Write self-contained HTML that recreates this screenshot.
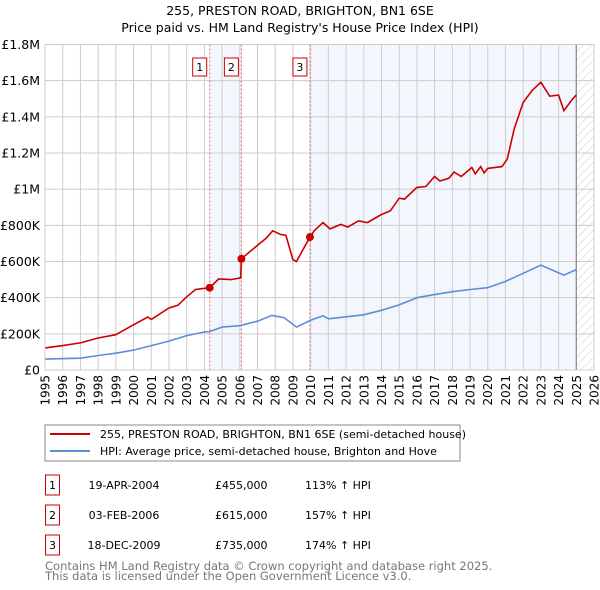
<!DOCTYPE html>
<html><head><meta charset="utf-8"><style>
body{margin:0;background:#fff;font-family:"DejaVu Sans","Liberation Sans",sans-serif;}
#wrap{position:relative;width:600px;height:590px;overflow:hidden}
</style></head><body>
<div id="wrap">
<svg id="chart" width="600" height="590" xmlns="http://www.w3.org/2000/svg" font-family="DejaVu Sans, Liberation Sans, sans-serif">
<defs><pattern id="hatch" width="6" height="6" patternUnits="userSpaceOnUse" patternTransform="rotate(45)"><line x1="0" y1="0" x2="0" y2="6" stroke="#ccc" stroke-width="1"/></pattern></defs>
<text x="300" y="15" text-anchor="middle" font-size="12.5">255, PRESTON ROAD, BRIGHTON, BN1 6SE</text>
<text x="300" y="32" text-anchor="middle" font-size="12.5">Price paid vs. HM Land Registry's House Price Index (HPI)</text>
<g id="plot"></g>
<rect x="45" y="425" width="415" height="36" fill="#fff" stroke="#888"/>
<line x1="50" y1="434" x2="90" y2="434" stroke="#cc0000" stroke-width="2"/>
<text x="100" y="438" font-size="11">255, PRESTON ROAD, BRIGHTON, BN1 6SE (semi-detached house)</text>
<line x1="50" y1="451" x2="90" y2="451" stroke="#5b8fd6" stroke-width="2"/>
<text x="100" y="455" font-size="11">HPI: Average price, semi-detached house, Brighton and Hove</text>
<g id="table" font-size="11"></g>
<text x="45" y="570" font-size="11.5" fill="#777">Contains HM Land Registry data © Crown copyright and database right 2025.</text>
<text x="45" y="580" font-size="11.5" fill="#777">This data is licensed under the Open Government Licence v3.0.</text>
</svg>
</div>
<script>
const redYears=[1995,1996,1997,1998,1999,2000,2000.8,2001,2002,2002.5,2003,2003.5,2004.3,2004.8,2005.5,2006.05,2006.09,2006.7,2007.5,2007.85,2008.3,2008.6,2009.0,2009.2,2009.96,2010.2,2010.7,2011.1,2011.7,2012.1,2012.7,2013.2,2014,2014.5,2015,2015.3,2016,2016.5,2017,2017.3,2017.8,2018.1,2018.5,2019.1,2019.3,2019.6,2019.8,2020,2020.8,2021.1,2021.5,2022,2022.5,2023.0,2023.5,2024.0,2024.3,2024.8,2025];
const redValues=[122,135,150,177,195,250,293,280,343,358,405,445,455,503,500,510,615,665,730,770,750,745,610,600,735,770,815,780,805,790,825,815,860,880,950,945,1010,1015,1070,1045,1060,1095,1070,1120,1085,1125,1090,1115,1125,1165,1335,1480,1545,1591,1514,1520,1434,1500,1520];
const hpiYears=[1995,1997,1998,1999,2000,2001,2002,2003,2004,2004.3,2005,2006,2007,2007.8,2008.5,2009.2,2010,2010.7,2011,2012,2013,2014,2015,2016,2017,2018,2019,2020,2021,2022,2023,2024.3,2025];
const hpiValues=[60,65,80,93,110,135,160,190,210,213,237,245,270,302,290,237,275,300,283,294,305,330,360,400,417,433,445,455,490,535,580,525,555];
const saleLabels=["1","2","3"];
const saleYears=[2004.3,2006.09,2009.96];
const saleValues=[455,615,735];
const saleDates=["19-APR-2004","03-FEB-2006","18-DEC-2009"];
const salePrices=["£455,000","£615,000","£735,000"];
const saleHpi=["113% ↑ HPI","157% ↑ HPI","174% ↑ HPI"];
const yTicks=[0,200,400,600,800,1000,1200,1400,1600,1800];
const yTickLabels=["£0","£200K","£400K","£600K","£800K","£1M","£1.2M","£1.4M","£1.6M","£1.8M"];
const xTicks=[1995,1996,1997,1998,1999,2000,2001,2002,2003,2004,2005,2006,2007,2008,2009,2010,2011,2012,2013,2014,2015,2016,2017,2018,2019,2020,2021,2022,2023,2024,2025,2026];

const L=45,R=594,T=44.5,B=370,x0=1995,x1=2026,yMax=1800;
const X=v=>L+(v-x0)/(x1-x0)*(R-L);
const Y=v=>B-v/yMax*(B-T);
const NS="http://www.w3.org/2000/svg";
const plot=document.getElementById('plot');
function mk(tag,attrs,parent){const e=document.createElementNS(NS,tag);for(const k in attrs)e.setAttribute(k,attrs[k]);(parent||plot).appendChild(e);return e;}

let e;
e=mk('rect',{x:L,y:T,width:R-L,height:B-T,fill:'#fff'});


e=mk('rect',{x:X(saleYears[0]),y:T,width:X(saleYears[1])-X(saleYears[0]),height:B-T,fill:'#eef3fc',opacity:0.7});


e=mk('rect',{x:X(saleYears[2]),y:T,width:X(2025)-X(saleYears[2]),height:B-T,fill:'#eef3fc',opacity:0.7});


e=mk('rect',{x:X(2025),y:T,width:R-X(2025),height:B-T,fill:'url(#hatch)'});


xTicks.forEach((t,i)=>{
  e=mk('line',{x1:X(t),x2:X(t),y1:T,y2:B,stroke:'#ccc','stroke-width':1});
  
  
  const tx=X(t)+4.5, ty=375;
  e=mk('text',{x:tx,y:ty,'text-anchor':'end','font-size':12,transform:'rotate(-90 '+tx+' '+ty+')'});
  e.textContent=t;
  
  
});
yTicks.forEach((t,i)=>{
  e=mk('line',{x1:L,x2:R,y1:Y(t),y2:Y(t),stroke:'#ccc','stroke-width':1});
  
  
  e=mk('text',{x:40,y:Y(t)+4.5,'text-anchor':'end','font-size':12.5});
  e.textContent=yTickLabels[i];
  
  
});
e=mk('line',{x1:X(2025),x2:X(2025),y1:T,y2:B,stroke:'#888','stroke-width':1.2});


saleYears.forEach((s,i)=>{
  e=mk('line',{x1:X(s),x2:X(s),y1:T,y2:B,stroke:'#e06060','stroke-width':1,'stroke-dasharray':'2,2'});
  
  
  e=mk('rect',{x:X(s)-17,y:58,width:14,height:18,fill:'#fff',stroke:'#cc0000'});
  
  
  e=mk('text',{x:X(s)-10,y:71,'text-anchor':'middle','font-size':11});
  e.textContent=saleLabels[i];
  
  
});
const pts=(xs,vs)=>xs.map((x,i)=>X(x).toFixed(1)+','+Y(vs[i]).toFixed(1)).join(' ');
e=mk('polyline',{points:pts(hpiYears,hpiValues),fill:'none',stroke:'#5b8fd6','stroke-width':1.6});


e=mk('polyline',{points:pts(redYears,redValues),fill:'none',stroke:'#cc0000','stroke-width':1.6});


saleYears.forEach((s,i)=>{
  e=mk('circle',{cx:X(s),cy:Y(saleValues[i]),r:4,fill:'#cc0000'});
  
  
});
e=mk('rect',{x:L,y:T,width:R-L,height:B-T,fill:'none',stroke:'#ccc'});



const tbl=document.getElementById('table');
saleLabels.forEach((l,i)=>{
  const cy=485+i*30;
  e=mk('rect',{x:45.5,y:cy-10,width:14,height:20,fill:'#fff',stroke:'#cc0000'},tbl);
  
  
  e=mk('text',{x:52.5,y:cy+4,'text-anchor':'middle'},tbl);e.textContent=l;
  
  
  e=mk('text',{x:124,y:cy+4,'text-anchor':'middle'},tbl);e.textContent=saleDates[i];
  
  
  e=mk('text',{x:215,y:cy+4},tbl);e.textContent=salePrices[i];
  
  
  e=mk('text',{x:305,y:cy+4},tbl);e.textContent=saleHpi[i];
  
  
});
</script>
</body></html>
